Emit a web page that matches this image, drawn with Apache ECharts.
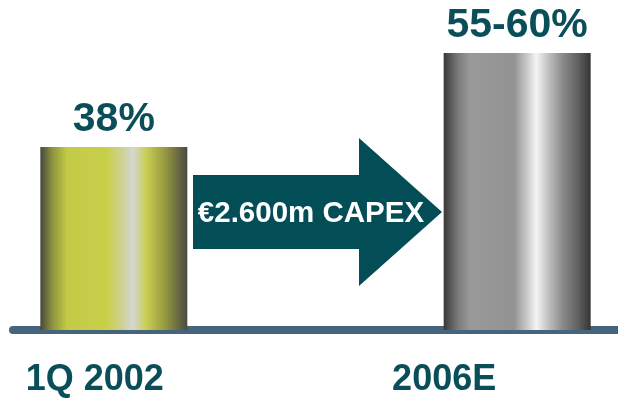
<!DOCTYPE html>
<html>
<head>
<meta charset="utf-8">
<script src="https://cdn.jsdelivr.net/npm/echarts@6/dist/echarts.min.js"></script>
<style>
  html, body { margin: 0; padding: 0; background: #ffffff; }
  #chart { width: 618px; height: 398px; }
</style>
</head>
<body>
<div id="chart"></div>
<script>
// Periods on the x axis (the middle slot is left empty for the arrow)
const categories = ['1Q 2002', '', '2006E'];
// Share values drawn as bars (2006E uses the midpoint of the 55-60% range)
const shareValues = [38, null, 57.5];
// Text printed above each bar
const valueLabels = ['38%', '', '55-60%'];
// Investment note shown inside the arrow
const arrowText = '€2.600m CAPEX';

const FONT = '"Liberation Sans", Arial, sans-serif';
const TEAL = '#0a4e59';

const yellowCylinder = new echarts.graphic.LinearGradient(0, 0, 1, 0, [
  { offset: 0.00, color: '#48483f' },
  { offset: 0.08, color: '#8c923e' },
  { offset: 0.18, color: '#c2ca47' },
  { offset: 0.45, color: '#c8d04a' },
  { offset: 0.56, color: '#cdd196' },
  { offset: 0.63, color: '#d6d6d4' },
  { offset: 0.72, color: '#c9ce52' },
  { offset: 0.85, color: '#959840' },
  { offset: 1.00, color: '#4a4a42' }
]);

const greyCylinder = new echarts.graphic.LinearGradient(0, 0, 1, 0, [
  { offset: 0.00, color: '#383838' },
  { offset: 0.10, color: '#7c7c7c' },
  { offset: 0.18, color: '#999999' },
  { offset: 0.48, color: '#939393' },
  { offset: 0.56, color: '#c4c4c4' },
  { offset: 0.63, color: '#f5f5f5' },
  { offset: 0.71, color: '#c2c2c2' },
  { offset: 0.81, color: '#8a8a8a' },
  { offset: 0.92, color: '#5e5e5e' },
  { offset: 1.00, color: '#343434' }
]);
const fills = [yellowCylinder, null, greyCylinder];

// Category labels sit slightly left of the bar centres
const labelShift = { '1Q 2002': 'a', '2006E': 'b' };

const chart = echarts.init(document.getElementById('chart'), null, { renderer: 'canvas' });

chart.setOption({
  animation: false,
  backgroundColor: '#ffffff',
  grid: { left: 13, right: 0, top: 41, bottom: 65 },
  xAxis: {
    type: 'category',
    data: categories,
    offset: 4,
    axisLine: { show: true, lineStyle: { color: '#46647c', width: 8 } },
    axisTick: { show: false },
    axisLabel: {
      margin: 28,
      interval: 0,
      formatter: function (v) {
        return labelShift[v] ? '{' + labelShift[v] + '|' + v + '}' : '';
      },
      rich: {
        a: { fontFamily: FONT, fontWeight: 'bold', fontSize: 36, color: TEAL, padding: [0, 38, 0, 0] },
        b: { fontFamily: FONT, fontWeight: 'bold', fontSize: 36, color: TEAL, padding: [0, 146, 0, 0] }
      }
    }
  },
  yAxis: {
    type: 'value',
    min: 0,
    max: 60,
    show: false,
    splitLine: { show: false }
  },
  series: [{
    type: 'bar',
    barWidth: 147,
    data: shareValues.map(function (v, i) {
      return v == null ? null : { value: v, itemStyle: { color: fills[i] } };
    }),
    label: {
      show: true,
      position: 'top',
      distance: 7,
      fontFamily: FONT,
      fontWeight: 'bold',
      fontSize: 41,
      color: TEAL,
      formatter: function (p) { return valueLabels[p.dataIndex]; }
    }
  }],
  graphic: [
    {
      type: 'polygon',
      shape: {
        points: [[193, 175], [359, 175], [359, 138], [442, 212], [359, 286], [359, 249], [193, 249]]
      },
      style: { fill: '#034d57' }
    },
    {
      type: 'text',
      x: 311,
      y: 214,
      style: {
        text: arrowText,
        fill: '#ffffff',
        font: 'bold 29.5px ' + FONT,
        align: 'center',
        verticalAlign: 'middle'
      }
    }
  ]
});
</script>
</body>
</html>
